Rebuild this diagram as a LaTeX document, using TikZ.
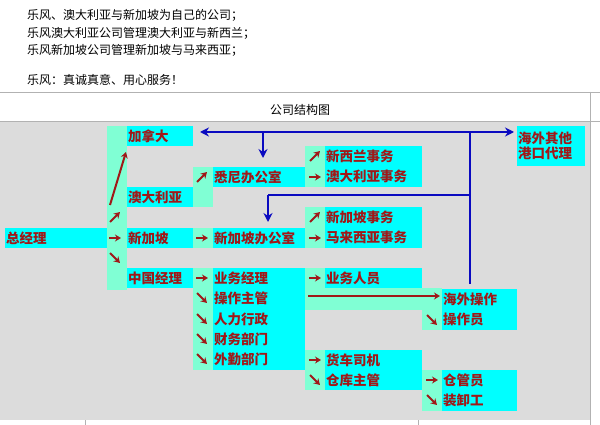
\documentclass[tikz,border=0pt]{standalone}
\usepackage{fontspec}
\setmainfont{Noto Sans CJK SC}
\usetikzlibrary{arrows.meta}
\definecolor{cy}{HTML}{00FFFF}
\definecolor{aq}{HTML}{80FFD4}
\definecolor{bg}{HTML}{DCDCDC}
\definecolor{rd}{HTML}{A01818}
\definecolor{bl}{HTML}{0A0AC0}
\tikzset{x=1pt,y=-1pt,
 lbl/.style={anchor=west,inner sep=0pt,text=rd,font=\fontsize{13.5}{15}\selectfont\bfseries},
 top/.style={anchor=west,inner sep=0pt,font=\fontsize{12}{13}\selectfont},
 ra/.style={rd,line width=2pt,-{Stealth[length=6pt,width=7pt]}},
 ba/.style={bl,line width=2.2pt,-{Stealth[length=9pt,width=9pt]}},
 bline/.style={bl,line width=2.2pt}}
\newcommand\mycell[6]{\fill[cy] (#1,#2) rectangle (#3,#4);
 \node[lbl] (#5) at (#1+1,{(#2+#4)/2}) {#6};}
\newcommand\ar[3]{\draw[ra] (#1-6,#2) -- (#1+6,#2);}
\newcommand\au[3]{\draw[ra] (#1-5,#2+5) -- (#1+5,#2-5);}
\newcommand\ad[3]{\draw[ra] (#1-5,#2-5) -- (#1+5,#2+5);}
\begin{document}
\begin{tikzpicture}
\useasboundingbox (0,0) rectangle (600,425);
\fill[white] (0,0) rectangle (600,425);
\node[top] (t1) at (27,15) {乐风、澳大利亚与新加坡为自己的公司；};
\node[top] (t2) at (27,33) {乐风澳大利亚公司管理澳大利亚与新西兰；};
\node[top] (t3) at (27,50) {乐风新加坡公司管理新加坡与马来西亚；};
\node[top] (t4) at (27,80) {乐风：真诚真意、用心服务！};
\draw[gray!60] (0,92) -- (600,92);
\node[top,anchor=center] (title) at (300,110) {公司结构图};
\fill[bg] (0,122) rectangle (590,420);
\draw[gray!60] (0,121.5) -- (600,121.5) (590,92) -- (590,425) (85,420) -- (85,425) (418,420) -- (418,425);
% aqua areas
\fill[aq] (107,126) rectangle (127,290);
\fill[aq] (193,167) rectangle (213,207);
\fill[aq] (193,228) rectangle (213,248);
\fill[aq] (193,268) rectangle (213,370);
\fill[aq] (305,146) rectangle (325,187);
\fill[aq] (305,207) rectangle (325,248);
\fill[aq] (305,268) rectangle (325,288);
\fill[aq] (305,288) rectangle (442,310);
\fill[aq] (422,289) rectangle (442,330);
\fill[aq] (305,350) rectangle (325,390);
\fill[aq] (422,370) rectangle (442,411);
% cells
\mycell{5}{228}{107}{248}{zjl}{总经理}
\mycell{127}{126}{193}{146}{jnd}{加拿大}
\mycell{127}{187}{193}{207}{adly}{澳大利亚}
\mycell{127}{228}{193}{248}{xjp}{新加坡}
\mycell{127}{268}{193}{288}{zgjl}{中国经理}
\mycell{213}{167}{305}{187}{xn}{悉尼办公室}
\mycell{213}{228}{305}{248}{xjpbgs}{新加坡办公室}
\fill[cy] (213,268) rectangle (305,370);
\node[lbl] (ywjl) at (214,278) {业务经理};
\node[lbl] (czzg) at (214,298) {操作主管};
\node[lbl] (rlxz) at (214,319) {人力行政};
\node[lbl] (cwbm) at (214,339) {财务部门};
\node[lbl] (wqbm) at (214,359) {外勤部门};
\mycell{325}{146}{422}{166}{xxl}{新西兰事务}
\mycell{325}{166}{422}{187}{adlysw}{澳大利亚事务}
\mycell{325}{207}{422}{227}{xjpsw}{新加坡事务}
\mycell{325}{227}{422}{248}{mlxy}{马来西亚事务}
\mycell{325}{268}{422}{288}{ywry}{业务人员}
\mycell{325}{350}{422}{370}{hcsj}{货车司机}
\mycell{325}{370}{422}{390}{ckzg}{仓库主管}
\mycell{442}{289}{517}{309}{hwcz}{海外操作}
\mycell{442}{309}{517}{330}{czy}{操作员}
\mycell{442}{370}{517}{390}{cgy}{仓管员}
\mycell{442}{390}{517}{411}{zxg}{装卸工}
\fill[cy] (517,126) rectangle (585,166);
\node[lbl,align=left] (hwdl) at (518,146) {海外其他\\港口代理};
% red arrows
\draw[ra] (110,205) -- (126,152);
\au{115}{217}{} \ar{115}{238}{} \ad{115}{258}{}
\au{202}{177}{} \ar{202}{238}{} \ar{202}{278}{}
\ad{202}{298}{} \ad{202}{319}{} \ad{202}{339}{} \ad{202}{359}{}
\au{315}{156}{} \ar{315}{177}{} \au{315}{217}{} \ar{315}{238}{}
\ar{315}{278}{} \ar{315}{360}{} \ad{315}{380}{}
\draw[ra] (308,296) -- (440,296);
\ad{432}{320}{} \ar{432}{380}{} \ad{432}{400}{}
% blue
\draw[ba] (470,132) -- (200,132);
\draw[ba] (470,132) -- (514,132);
\draw[ba] (263,132) -- (263,158);
\draw[bline] (470,132) -- (470,284);
\draw[bline] (470,195) -- (268,195);
\draw[ba] (268,195) -- (268,222);
\end{tikzpicture}
\end{document}
